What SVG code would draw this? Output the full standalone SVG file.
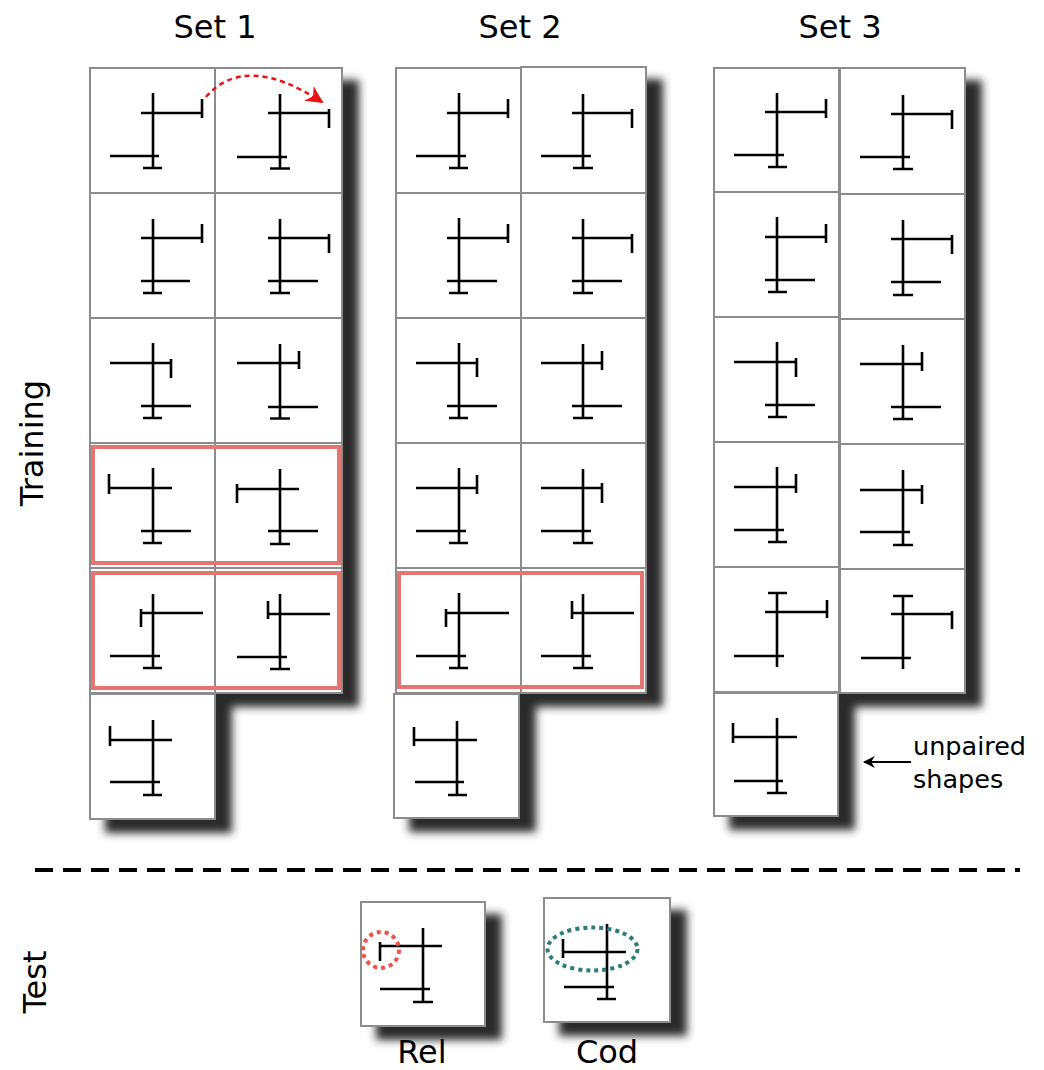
<svg xmlns="http://www.w3.org/2000/svg" width="1044" height="1070" viewBox="0 0 1044 1070">
<style>
.cell{fill:#fff;stroke:#8c8c8c;stroke-width:2}
.sh{fill:none;stroke:#000;stroke-width:2.6}
.hl{fill:none;stroke:#e5746f;stroke-width:4}
.lbl{font-family:"DejaVu Sans","Liberation Sans",sans-serif;font-size:32px;fill:#000}
.sm{font-family:"DejaVu Sans","Liberation Sans",sans-serif;font-size:25.5px;fill:#000}
</style>
<defs>
<filter id="shadow" x="-15%" y="-10%" width="140%" height="130%">
<feDropShadow dx="16" dy="13" stdDeviation="4" flood-color="#2a2a2a" flood-opacity="1"/>
</filter>
<marker id="redhead" viewBox="0 0 10 10" refX="9" refY="5" markerWidth="7" markerHeight="7" orient="auto" markerUnits="strokeWidth">
<path d="M0,0 L10,5 L0,10 L3,5 z" fill="#ee1111"/>
</marker>
<marker id="blackhead" viewBox="0 0 10 10" refX="9" refY="5" markerWidth="6" markerHeight="6" orient="auto" markerUnits="strokeWidth">
<path d="M0,0 L10,5 L0,10 L3,5 z" fill="#000"/>
</marker>
</defs>
<rect width="1044" height="1070" fill="#fff"/>

<text class="lbl" x="215" y="38" text-anchor="middle">Set 1</text>
<text class="lbl" x="520" y="38" text-anchor="middle">Set 2</text>
<text class="lbl" x="840" y="38" text-anchor="middle">Set 3</text>
<text class="lbl" transform="translate(43,443) rotate(-90)" text-anchor="middle">Training</text>
<text class="lbl" transform="translate(46,982) rotate(-90)" text-anchor="middle">Test</text>

<g id="set1" filter="url(#shadow)">
<rect class="cell" x="90" y="68" width="125" height="125"/>
<rect class="cell" x="215" y="68" width="127" height="125"/>
<rect class="cell" x="90" y="193" width="125" height="125"/>
<rect class="cell" x="215" y="193" width="127" height="125"/>
<rect class="cell" x="90" y="318" width="125" height="125"/>
<rect class="cell" x="215" y="318" width="127" height="125"/>
<rect class="cell" x="90" y="443" width="125" height="125"/>
<rect class="cell" x="215" y="443" width="127" height="125"/>
<rect class="cell" x="90" y="568" width="125" height="125"/>
<rect class="cell" x="215" y="568" width="127" height="125"/>
<rect class="cell" x="90" y="694" width="125" height="125"/>
<path class="sh" transform="translate(90,68)" d="M63,25V100M51,45H112M112,31V50M20,88H69M53,100H72"/>
<path class="sh" transform="translate(215,68)" d="M65,26V101M53,45H114M114,41V60M22,89H72M55,100.5H75"/>
<path class="sh" transform="translate(90,193)" d="M63,26V100M51,45H112M112,31V50M51,88H100M53,100H72"/>
<path class="sh" transform="translate(215,193)" d="M65,26V100M53,45H114M114,41V60M53,88H103M55,100H75"/>
<path class="sh" transform="translate(90,318)" d="M63,25V100M20,45H81M81,41V60M51,88H101M53,100H72"/>
<path class="sh" transform="translate(215,318)" d="M65,26V101M22,45H84M84,33V51M53,89H103M55,100.5H75"/>
<path class="sh" transform="translate(90,443)" d="M63,25V100M19,45H82M19,31V51M51,88H101M53,100H72"/>
<path class="sh" transform="translate(215,443)" d="M65,26V101M22,46H84M22,41V60M53,88H103M55,101H75"/>
<path class="sh" transform="translate(90,568)" d="M63,26V100M51,45H113M51,41V59M20,88H70M53,100H72"/>
<path class="sh" transform="translate(215,568)" d="M65,26V101M53,46H115M53,33V51M22,89H72M55,101H75"/>
<path class="sh" transform="translate(90,694)" d="M63,26V101M20,46H82M20,32V52M20,88H70M53,101H72"/>
<rect class="hl" x="93" y="447" width="246" height="116"/>
<rect class="hl" x="93" y="573" width="246" height="115"/>
</g>

<g id="set2" filter="url(#shadow)">
<rect class="cell" x="396" y="68" width="125" height="125"/>
<rect class="cell" x="521" y="67" width="125" height="126"/>
<rect class="cell" x="396" y="193" width="125" height="125"/>
<rect class="cell" x="521" y="193" width="125" height="125"/>
<rect class="cell" x="396" y="318" width="125" height="125"/>
<rect class="cell" x="521" y="318" width="125" height="125"/>
<rect class="cell" x="396" y="443" width="125" height="125"/>
<rect class="cell" x="521" y="443" width="125" height="125"/>
<rect class="cell" x="396" y="568" width="125" height="125"/>
<rect class="cell" x="521" y="568" width="125" height="125"/>
<rect class="cell" x="394" y="694" width="125" height="124"/>
<path class="sh" transform="translate(396,68)" d="M63,25V100M51,45H112M112,31V50M20,88H70M53,100H72"/>
<path class="sh" transform="translate(521,68)" d="M62,26V100M51,45H111M111,41V60M20,88H70M52,100H72"/>
<path class="sh" transform="translate(396,193)" d="M63,25V100M51,45H112M112,31V50M51,88H101M53,100H72"/>
<path class="sh" transform="translate(521,193)" d="M62,26V100M51,45H111M111,41V60M51,88H101M52,100H72"/>
<path class="sh" transform="translate(396,318)" d="M63,25V100M20,45H81M81,40V59M51,88H101M53,100H72"/>
<path class="sh" transform="translate(521,318)" d="M62,26V100M20,45H81M81,33V52M51,88H101M52,100H72"/>
<path class="sh" transform="translate(396,443)" d="M63,25V100M20,45H81M81,32V51M20,88H70M53,100H72"/>
<path class="sh" transform="translate(521,443)" d="M62,26V100M20,45H81M81,40V60M20,88H70M52,100H72"/>
<path class="sh" transform="translate(396,568)" d="M63,25V100M50,45H113M50,41V59M20,88H70M53,100H72"/>
<path class="sh" transform="translate(521,568)" d="M62,26V100M51,45H113M51,33V51M20,88H70M52,100H72"/>
<path class="sh" transform="translate(394,694)" d="M63,27V101M20,46H83M20,33V52M21,88H70M54,101H73"/>
<rect class="hl" x="399" y="573" width="243" height="114"/>
</g>

<g id="set3" filter="url(#shadow)">
<rect class="cell" x="714" y="68" width="125" height="124"/>
<rect class="cell" x="840" y="68" width="125" height="126"/>
<rect class="cell" x="714" y="192" width="125" height="125"/>
<rect class="cell" x="840" y="194" width="125" height="125"/>
<rect class="cell" x="714" y="317" width="125" height="125"/>
<rect class="cell" x="840" y="319" width="125" height="125"/>
<rect class="cell" x="714" y="442" width="125" height="125"/>
<rect class="cell" x="840" y="444" width="125" height="125"/>
<rect class="cell" x="714" y="567" width="125" height="125"/>
<rect class="cell" x="840" y="569" width="125" height="124"/>
<rect class="cell" x="714" y="693" width="124" height="123"/>
<path class="sh" transform="translate(714,68)" d="M63,25V99M51,44H112M112,31V50M20,87H70M54,99H73"/>
<path class="sh" transform="translate(840,68)" d="M63,27V101M51,46H112M112,42V61M20,89H70M53,101H73"/>
<path class="sh" transform="translate(714,192)" d="M63,25V100M51,45H112M112,32V51M51,88H101M54,100H73"/>
<path class="sh" transform="translate(840,194)" d="M63,26V101M51,45H112M112,41V60M51,88H101M53,101H73"/>
<path class="sh" transform="translate(714,317)" d="M63,25V100M20,45H82M82,41V60M51,88H101M54,100H73"/>
<path class="sh" transform="translate(840,319)" d="M63,26V100M20,45H82M82,33V52M51,88H101M53,100H73"/>
<path class="sh" transform="translate(714,442)" d="M63,25V100M20,45H82M82,32V51M20,88H70M54,100H73"/>
<path class="sh" transform="translate(840,444)" d="M63,26V101M20,46H82M82,41V60M20,88H70M53,101H73"/>
<path class="sh" transform="translate(714,567)" d="M63,26V100M54,26H73M51,45H113M113,33V51M20,89H70"/>
<path class="sh" transform="translate(840,569)" d="M63,27V100M53,27H73M51,45H112M112,42V60M21,89H71"/>
<path class="sh" transform="translate(714,693)" d="M63,25V100M19,44H83M19,30V50M20,88H69M53,100H73"/>
</g>

<g id="test-rel">
<g filter="url(#shadow)">
<rect class="cell" x="361" y="902" width="124" height="124"/>
<path class="sh" transform="translate(361,902)" d="M62,26V100M19,44H81M19,40V59M19,87H69M52,100H72"/>
</g>
<circle cx="381" cy="950" r="18" fill="none" stroke="#f0504a" stroke-width="4" stroke-dasharray="4 4"/>
<text class="lbl" x="422" y="1063" text-anchor="middle">Rel</text>
</g>

<g id="test-cod">
<g filter="url(#shadow)">
<rect class="cell" x="544" y="898" width="126" height="124"/>
<path class="sh" transform="translate(544,898)" d="M63,26V101M19,54H82M19,41V60M20,89H70M53,101H72"/>
</g>
<ellipse cx="592.5" cy="949" rx="45" ry="21.5" fill="none" stroke="#2a7d78" stroke-width="4" stroke-dasharray="4 4"/>
<text class="lbl" x="607" y="1063" text-anchor="middle">Cod</text>
</g>

<g id="connectors">
<path d="M206,97 Q245,52 322,102" fill="none" stroke="#ee1111" stroke-width="2.5" stroke-dasharray="5 4" marker-end="url(#redhead)"/>
<line x1="911" y1="762" x2="864" y2="762" stroke="#000" stroke-width="2" marker-end="url(#blackhead)"/>
<line x1="35" y1="870" x2="1020" y2="870" stroke="#000" stroke-width="4" stroke-dasharray="18 10"/>
</g>

<g id="note">
<text class="sm" x="913" y="755">unpaired</text>
<text class="sm" x="913" y="788">shapes</text>
</g>
</svg>
